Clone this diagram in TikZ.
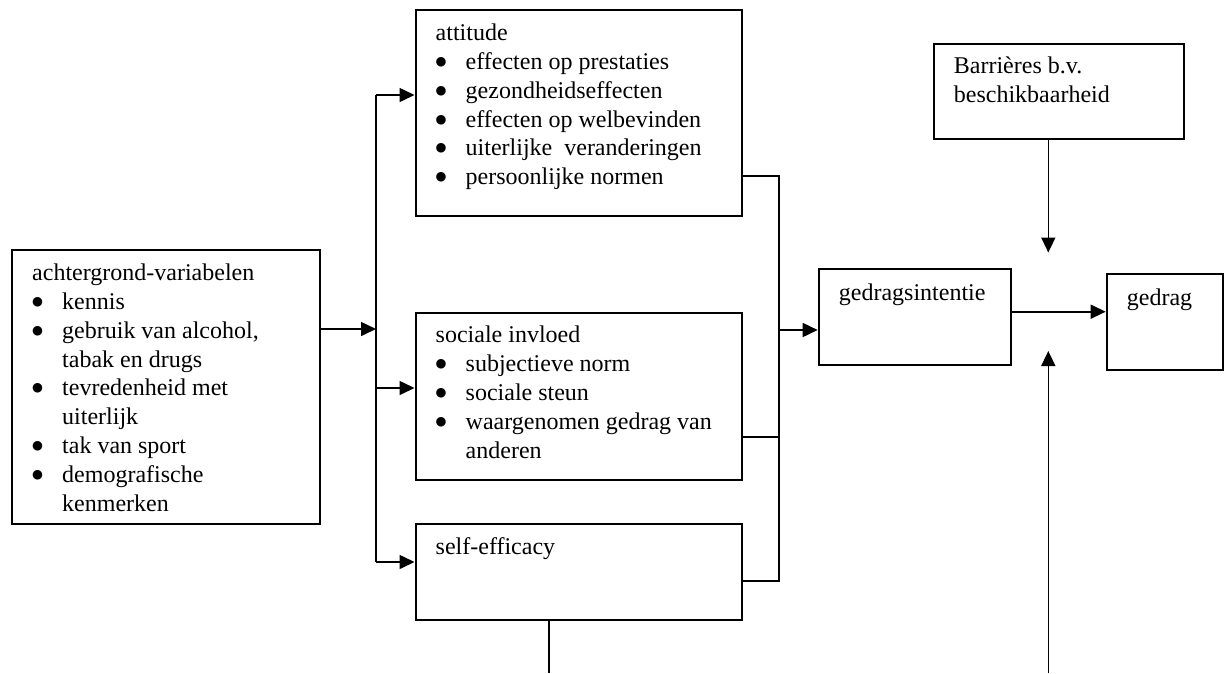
\documentclass[tikz,border=0pt]{standalone}
\usepackage{fontspec}
\setmainfont{Liberation Serif}
\newfontfamily\dejavu{DejaVu Sans}
\usetikzlibrary{arrows.meta}
\newcommand{\bulletmark}{\raisebox{4pt}{\dejavu\fontsize{12.5}{12.5}\selectfont ●}}
\newcommand{\bitem}[1]{\par\hangindent=30pt\hangafter=1\noindent\makebox[30pt][l]{\bulletmark}#1}
\tikzset{
  box/.style={draw, line width=2pt, rectangle, anchor=north west, inner sep=0pt},
  txt/.style={anchor=base west, inner sep=0pt, align=left},
  conn/.style={line width=1.6pt},
  arr/.style={conn, -{Triangle[length=15pt,width=14pt]}}
}
\begin{document}
\begin{tikzpicture}[x=1pt, y=-1pt, font=\fontsize{24}{28.9}\selectfont]
\useasboundingbox[fill=white] (0,0) rectangle (1226,673);

% boxes
\node[box, minimum width=308pt, minimum height=273.7pt] (bg) at (11,249.3) {};
\node[box, minimum width=326.5pt, minimum height=205.7pt] (att) at (414.5,9.3) {};
\node[box, minimum width=326.5pt, minimum height=167.3pt] (soc) at (414.5,311.7) {};
\node[box, minimum width=326.5pt, minimum height=96pt] (self) at (414.5,523) {};
\node[box, minimum width=192.3pt, minimum height=96pt] (gi) at (817.7,267.7) {};
\node[box, minimum width=116pt, minimum height=96pt] (ged) at (1105.7,273.3) {};
\node[box, minimum width=250pt, minimum height=95.6pt] (bar) at (932.7,42.7) {};

% texts
\node[txt] (bg-t) at ([shift={(21,31)}]bg.north west) {\parbox[t]{290pt}{%
achtergrond-variabelen
\bitem{kennis}
\bitem{gebruik van alcohol,\newline tabak en drugs}
\bitem{tevredenheid met\newline uiterlijk}
\bitem{tak van sport}
\bitem{demografische\newline kenmerken}}};
\node[txt] (att-t) at ([shift={(21,31)}]att.north west) {\parbox[t]{300pt}{%
attitude
\bitem{effecten op prestaties}
\bitem{gezondheidseffecten}
\bitem{effecten op welbevinden}
\bitem{uiterlijke\ \ veranderingen}
\bitem{persoonlijke normen}}};
\node[txt] (soc-t) at ([shift={(21,31)}]soc.north west) {\parbox[t]{300pt}{%
sociale invloed
\bitem{subjectieve norm}
\bitem{sociale steun}
\bitem{waargenomen gedrag van\newline anderen}}};
\node[txt] (self-t) at ([shift={(21,31)}]self.north west) {self-efficacy};
\node[txt] (gi-t) at ([shift={(21,32.5)}]gi.north west) {gedragsintentie};
\node[txt] (ged-t) at ([shift={(21,32.5)}]ged.north west) {gedrag};
\node[txt] (bar-t) at ([shift={(21,31)}]bar.north west) {\parbox[t]{230pt}{%
Barrières b.v.\newline beschikbaarheid}};

% left bus
\coordinate (busTop) at (376,95);
\coordinate (busIn) at (376,329);
\coordinate (busSoc) at (376,388);
\coordinate (busSelf) at (376,562);
\draw[conn] (busTop) -- (busSelf);
\draw[arr] (bg.east |- busIn) -- (busIn);
\draw[arr] (busTop) -- (busTop -| att.west);
\draw[arr] (busSoc) -- (busSoc -| soc.west);
\draw[arr] (busSelf) -- (busSelf -| self.west);

% right bus
\coordinate (rAtt) at (779,176);
\coordinate (rSoc) at (779,436.7);
\coordinate (rSelf) at (779,580.7);
\coordinate (rOut) at (779,330);
\draw[conn] (att.east |- rAtt) -- (rAtt) -- (rSelf) -- (self.east |- rSelf);
\draw[conn] (soc.east |- rSoc) -- (rSoc);
\draw[arr] (rOut) -- (rOut -| gi.west);

% intention to behaviour
\coordinate (giOut) at (1010,311.7);
\draw[arr] (gi.east |- giOut) -- (giOut -| ged.west);

% barriers and lower arrow
\coordinate (downTip) at (1048.3,252.5);
\draw[arr] (bar.south -| downTip) -- (downTip);
\coordinate (upFoot) at (1048.3,673);
\coordinate (upTip) at (1048.3,351);
\draw[arr] (upFoot) -- (upTip);
\coordinate (selfFoot) at (549,673);
\draw[conn] (self.south -| selfFoot) -- (selfFoot);
\end{tikzpicture}
\end{document}
